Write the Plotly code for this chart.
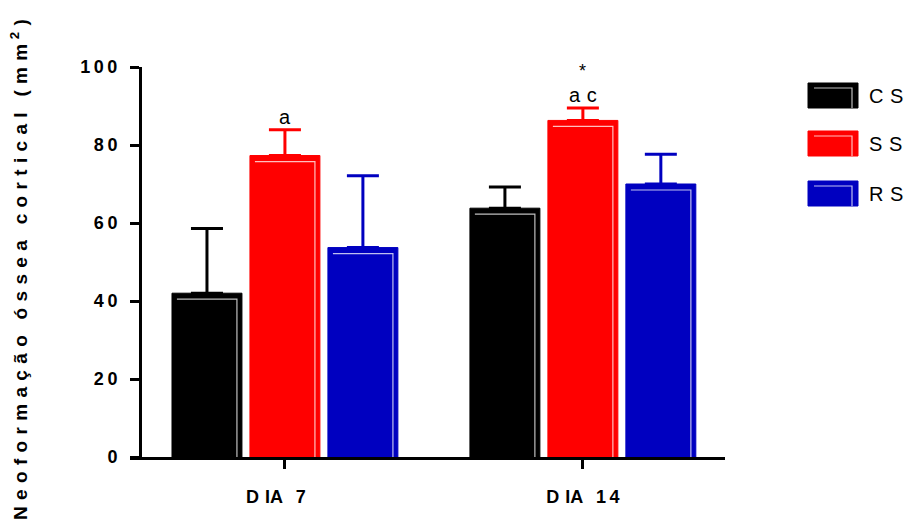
import plotly.graph_objects as go

categories = ["DIA 7", "DIA 14"]
cat_labels = ["D\u2004IA\u2002\u20097\u2002\u2002", "D\u2004IA\u2002\u20091\u20094"]
groups = ["CS", "SS", "RS"]
group_labels = ["C\u2004S", "S\u2004S", "R\u2004S"]
cs_mean = [42.0, 63.8]
ss_mean = [77.3, 86.3]
rs_mean = [53.7, 70.0]
cs_err = [16.6, 5.4]
ss_err = [6.6, 3.2]
rs_err = [18.4, 7.6]
colors = ["#000000", "#FF0000", "#0000C0"]
y_ticks = [0, 20, 40, 60, 80, 100]
y_ticktext = ["0", "2\u20090", "4\u20090", "6\u20090", "8\u20090", "1\u20090\u20090"]
sig_labels = [["a"], ["a\u2004c", "*"]]

FONT = "Liberation Sans, Arial, sans-serif"
OFF = 8  # page body margin
W, H = 912 - OFF, 525 - OFF
# plot area in page pixels
PL, PR, PT, PB = 130, 725, 67, 457
L, R, T, B = PL - OFF, PR - OFF, PT - OFF, PB - OFF
XR = [-0.52, 1.477]
upx = (XR[1] - XR[0]) / (PR - PL)       # x data units per pixel
vpx = 100.0 / (PB - PT)                  # y data units per pixel

fig = go.Figure()
xs = [0, 1]
slot = 78 * upx
half = 35 * upx
series = [cs_mean, ss_mean, rs_mean]
errs_all = [cs_err, ss_err, rs_err]
for name, means, errs, col in zip(groups, series, errs_all, colors):
    fig.add_trace(go.Bar(
        x=xs, y=means, name=name,
        marker=dict(color=col, line=dict(color=col, width=1)),
        error_y=dict(type="data", array=errs, arrayminus=[0] * len(errs),
                     symmetric=False, color=col, thickness=3, width=16),
        showlegend=False,
    ))

# GraphPad-like inner highlight lines (top and right edges)
for k, means in enumerate(series):
    for i, m in enumerate(means):
        c = xs[i] + (k - 1) * slot
        x0, x1 = c - half + 5 * upx, c + half - 5 * upx
        yl = m - 6 * vpx
        fig.add_trace(go.Scatter(
            x=[x0, x1, x1], y=[yl, yl, 0], mode="lines",
            line=dict(color="rgba(255,255,255,0.75)", width=1.2),
            hoverinfo="skip", showlegend=False, cliponaxis=False,
        ))

# significance annotations above SS bars
shifts = [13, 37]
sizes = [20, 18]
for i, labs in enumerate(sig_labels):
    top = ss_mean[i] + ss_err[i]
    for k, lab in enumerate(labs):
        fig.add_annotation(x=xs[i], y=top, yref="y", xref="x",
                           text=lab, showarrow=False, yanchor="middle",
                           yshift=shifts[k],
                           font=dict(family=FONT, size=sizes[k], color="#000"))

# custom legend (page pixel helpers)
def px_x(p):
    return (p - PL) / (PR - PL)

def px_y(p):
    return (PB - p) / (PB - PT)

leg_tops = [83, 131, 181]
for top, col, lab in zip(leg_tops, colors, group_labels):
    fig.add_shape(type="rect", xref="paper", yref="paper",
                  x0=px_x(808), x1=px_x(858), y0=px_y(top + 25), y1=px_y(top),
                  fillcolor=col, line=dict(color=col, width=1))
    fig.add_shape(type="path", xref="paper", yref="paper",
                  path="M {} {} L {} {} L {} {}".format(
                      px_x(814), px_y(top + 5), px_x(852), px_y(top + 5),
                      px_x(852), px_y(top + 25)),
                  line=dict(color="rgba(255,255,255,0.75)", width=1.2))
    fig.add_annotation(xref="paper", yref="paper", x=px_x(867),
                       y=px_y(top + 13), text=lab, showarrow=False,
                       xanchor="left", yanchor="middle",
                       font=dict(family=FONT, size=20, color="#000"))

# y title
sp = "\u2004"
ytitle = sp.join("Neoformação") + "\u2002" + sp + sp.join("óssea") + "\u2002" + sp + \
    sp.join("cortical") + "\u2002" + sp + "(" + sp + "m" + sp + "m<sup>" + sp + "2</sup>" + sp + ")"
fig.add_annotation(xref="paper", yref="paper", x=px_x(19), y=px_y(270),
                   text=ytitle, textangle=-90, showarrow=False,
                   xanchor="center", yanchor="middle",
                   font=dict(family=FONT, size=19, color="#000", weight="bold"))

fig.update_layout(
    width=W, height=H,
    margin=dict(l=L, r=W - R, t=T, b=H - B, pad=0),
    plot_bgcolor="white", paper_bgcolor="white",
    barmode="group", bargap=0.215, bargroupgap=0.1026,
    xaxis=dict(range=XR, tickvals=xs, ticktext=cat_labels,
               showline=True, linecolor="black", linewidth=3,
               ticks="outside", ticklen=9, tickwidth=3, tickcolor="black",
               ticklabelstandoff=12,
               showgrid=False, zeroline=False,
               tickfont=dict(family=FONT, size=18, color="black", weight="bold")),
    yaxis=dict(range=[0, 100], tickvals=y_ticks, ticktext=y_ticktext,
               anchor="free", position=10 / (PR - PL),
               showline=True, linecolor="black", linewidth=3,
               ticks="outside", ticklen=9, tickwidth=3, tickcolor="black",
               ticklabelstandoff=9,
               showgrid=False, zeroline=False,
               tickfont=dict(family=FONT, size=18, color="black", weight="bold")),
)

fig.write_html("out.html")
